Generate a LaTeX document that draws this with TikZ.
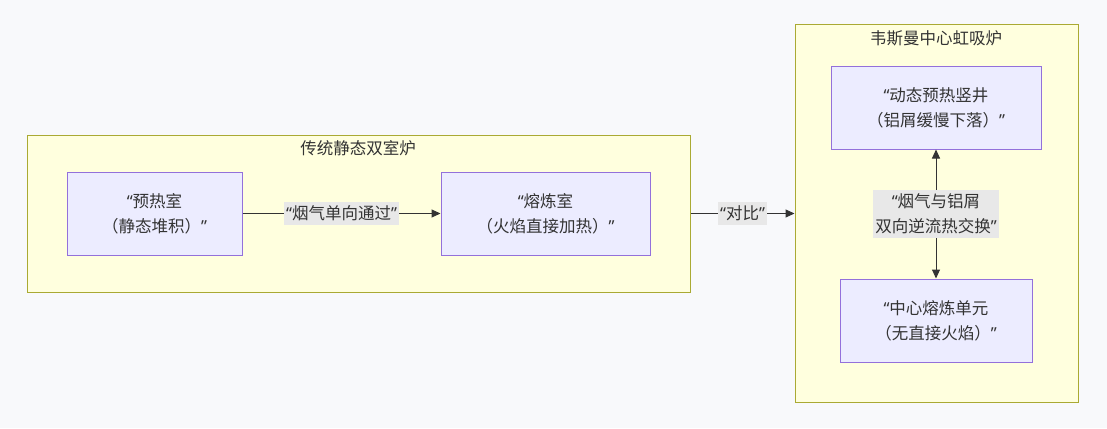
\documentclass[tikz,border=0pt]{standalone}
\usepackage{fontspec}
\setmainfont{Noto Sans CJK SC}
\newfontfamily\quotefont{Noto Sans}
\newcommand{\oq}{{\quotefont “}}
\newcommand{\cq}{{\quotefont ”}}
\usetikzlibrary{arrows.meta}
\definecolor{bg}{HTML}{F8F9FB}
\definecolor{boxfill}{HTML}{ECECFF}
\definecolor{boxline}{HTML}{9370DB}
\definecolor{clfill}{HTML}{FFFFDE}
\definecolor{clline}{HTML}{AAAA33}
\definecolor{lblfill}{HTML}{E8E8E8}
\definecolor{ink}{HTML}{333333}
\begin{document}
\begin{tikzpicture}[x=1pt, y=-1pt, line width=1pt,
    font=\fontsize{16.5}{25}\selectfont, text=ink,
    cluster/.style={draw=clline, fill=clfill, inner sep=0pt},
    box/.style={draw=boxline, fill=boxfill, align=center, minimum height=83pt, inner sep=0pt},
    lbl/.style={fill=lblfill, align=center, inner xsep=2pt, inner ysep=3.5pt},
    link/.style={draw=ink, -{Triangle[length=9pt,width=8pt]}}]
    \useasboundingbox[fill=bg] (0,0) rectangle (1107,428);

    % the two furnaces
    \node[cluster, minimum width=663pt, minimum height=157pt] (trad) at (358.5,213.5) {};
    \node (tradtitle) at (358,148) {传统静态双室炉};
    \node[cluster, minimum width=283pt, minimum height=377pt] (siph) at (936.5,213.5) {};
    \node (siphtitle) at (936,38) {韦斯曼中心虹吸炉};

    \foreach \n/\x/\y/\w/\t in {
      pre/154.5/213.5/175/{\oq 预热室\\（静态堆积）\cq},
      melt/545.5/213.5/209/{\oq 熔炼室\\（火焰直接加热）\cq},
      shaft/936/107.5/210/{\oq 动态预热竖井\\（铝屑缓慢下落）\cq},
      core/936/320.5/192/{\oq 中心熔炼单元\\（无直接火焰）\cq}}
    \node[box, minimum width=\w pt](\n) at (\x, \y) {\t};

    \draw[link] (pre) -- (melt) node[midway, lbl] {\oq 烟气单向通过\cq};
    \draw[link] (trad) -- (siph) node[midway, lbl] {\oq 对比\cq};
    \draw[link, {Triangle[length=9pt,width=8pt]}-{Triangle[length=9pt,width=8pt]}] (shaft) -- (core)
      node[midway, lbl] {\oq 烟气与铝屑\\双向逆流热交换\cq};
  \end{tikzpicture}
\end{document}
